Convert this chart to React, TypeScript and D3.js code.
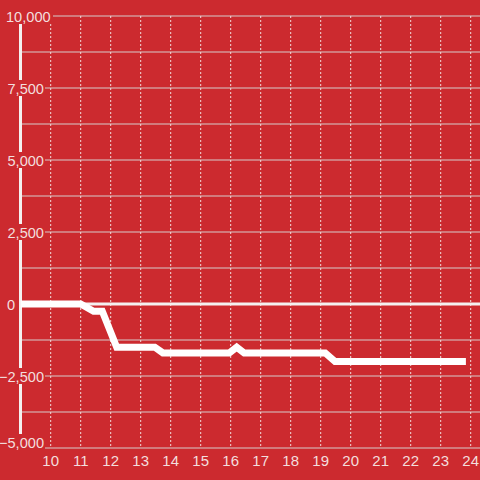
import React from "react";
import * as d3 from "d3";

const xTicks = [10, 11, 12, 13, 14, 15, 16, 17, 18, 19, 20, 21, 22, 23, 24];
const yTicks = [-5000, -3750, -2500, -1250, 0, 1250, 2500, 3750, 5000, 6250, 7500, 8750, 10000];
const yLabelTicks = [-5000, -2500, 0, 2500, 5000, 7500, 10000];
const seriesX = [9, 11, 11.43, 11.72, 12.2, 13.47, 13.74, 15.95, 16.2, 16.45, 19.15, 19.48, 23.84];
const seriesY = [0, 0, -250, -250, -1500, -1500, -1700, -1700, -1500, -1700, -1700, -2000, -2000];

const W = 480;
const H = 480;
const BG = "#cc2a2f";
const LABEL = "#f3dede";

export default function App() {
  const x = d3.scaleLinear().domain([9, 24]).range([20.7, 470.7]);
  const y = d3.scaleLinear().domain([-5000, 10000]).range([448, 16]);
  const fmt = d3.format(",");
  const line = d3
    .line<number>()
    .x((_, i) => x(seriesX[i]))
    .y((_, i) => y(seriesY[i]));
  const pathD = line(seriesX) || "";
  const font = "'Liberation Sans', Arial, sans-serif";

  return (
    <svg
      width={W}
      height={H}
      style={{ position: "absolute", left: 0, top: 0, display: "block" }}
      fontFamily={font}
    >
      <rect x={0} y={0} width={W} height={H} fill={BG} />
      {yTicks.map((t) => (
        <line key={"h" + t} x1={20} x2={W} y1={y(t)} y2={y(t)} stroke="#d6cccc" strokeWidth={1} />
      ))}
      {xTicks.map((t) => (
        <line
          key={"v" + t}
          x1={x(t)}
          x2={x(t)}
          y1={16}
          y2={448}
          stroke="#f0dcdc"
          strokeWidth={1}
          strokeDasharray="2,2"
        />
      ))}
      <line x1={19} x2={W} y1={y(0)} y2={y(0)} stroke="#f4f0f0" strokeWidth={3} />
      <line x1={20.5} x2={20.5} y1={16} y2={448} stroke="#f4f0f0" strokeWidth={3} />
      <path d={pathD} fill="none" stroke="#ffffff" strokeWidth={7} strokeLinejoin="miter" />
      {yLabelTicks.map((t) => {
        const label = fmt(t);
        const cy = Math.min(y(t), 442);
        let anchor: "start" | "end" = "end";
        let lx = 44;
        let bx0 = 2;
        let bx1 = 45;
        if (t === 0) {
          lx = 15;
          bx0 = 6;
          bx1 = 17;
        } else if (t === 10000) {
          anchor = "start";
          lx = 6;
          bx0 = 4;
          bx1 = 53;
        }
        return (
          <g key={"yl" + t}>
            <rect x={bx0} y={cy - 8} width={bx1 - bx0} height={16} fill={BG} />
            <text x={lx} y={cy + 5.5} textAnchor={anchor} fontSize={14.6} fill={LABEL}>
              {label}
            </text>
          </g>
        );
      })}
      {xTicks.map((t) => (
        <text key={"xl" + t} x={x(t)} y={466} textAnchor="middle" fontSize={15} fill={LABEL}>
          {t}
        </text>
      ))}
    </svg>
  );
}
